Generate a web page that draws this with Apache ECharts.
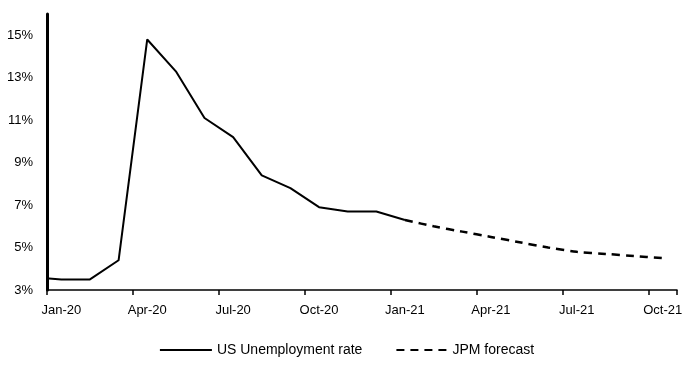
<!DOCTYPE html>
<html>
<head>
<meta charset="utf-8">
<script src="https://cdn.jsdelivr.net/npm/echarts@6/dist/echarts.min.js"></script>
<style>
  html, body { margin: 0; padding: 0; background: #fff; }
  #main { width: 694px; height: 375px; }
</style>
</head>
<body>
<div id="main"></div>
<script>
// month labels on the axis (Jan-20 .. Oct-21)
var months = ['Jan-20', 'Feb-20', 'Mar-20', 'Apr-20', 'May-20', 'Jun-20', 'Jul-20', 'Aug-20', 'Sep-20', 'Oct-20', 'Nov-20', 'Dec-20',
    'Jan-21', 'Feb-21', 'Mar-21', 'Apr-21', 'May-21', 'Jun-21', 'Jul-21', 'Aug-21', 'Sep-21', 'Oct-21'];

// actual rate, Dec-19 .. Jan-21 (Dec-19 sits just left of the axis and gets clipped)
var actualStart = -1;
var actual = [3.6, 3.5, 3.5, 4.4, 14.8, 13.3, 11.1, 10.2, 8.4, 7.8, 6.9, 6.7, 6.7, 6.3];

// forecast, Jan-21 .. Oct-21
var forecastStart = 12;
var forecast = [6.3, 6.0, 5.75, 5.5, 5.25, 5.0, 4.8, 4.7, 4.6, 4.5];

var yTicks = [3, 5, 7, 9, 11, 13, 15];

function toPairs(start, vals) {
    return vals.map(function (v, i) { return [start + i, v]; });
}

~function () {
    var myChart = echarts.init(document.getElementById('main'));
    var font = "'Liberation Sans', Arial, sans-serif";
    var option = {
        animation: false,
        textStyle: {fontFamily: font},
        grid: {left: 47, right: 17, top: 14, bottom: 85},
        legend: {
            bottom: 13,
            left: 'center',
            itemWidth: 52,
            itemHeight: 2,
            itemGap: 34,
            textStyle: {fontFamily: font, fontSize: 14, color: '#000'},
            data: [
                {name: 'US Unemployment rate', icon: 'rect', itemStyle: {color: '#000'}},
                {name: 'JPM forecast', icon: 'path://M0,0h8v2h-8z M14,0h8v2h-8z M28,0h8v2h-8z M42,0h8v2h-8z', itemStyle: {color: '#000'}}
            ]
        },
        xAxis: [
            {
                type: 'category',
                data: months,
                boundaryGap: true,
                axisLine: {onZero: false, lineStyle: {color: '#000', width: 1.5}},
                axisTick: {show: true, interval: 2, length: 5, lineStyle: {color: '#000', width: 1.5}},
                axisLabel: {interval: 2, color: '#000', fontSize: 13, margin: 14, fontFamily: font},
                splitLine: {show: false}
            },
            {
                type: 'value',
                min: -0.5,
                max: 21.5,
                show: false,
                splitLine: {show: false}
            }
        ],
        yAxis: [
            {
                type: 'value',
                min: 3,
                max: 16,
                interval: 2,
                axisLine: {show: true, onZero: false, lineStyle: {color: '#000', width: 3}},
                axisTick: {show: false},
                splitLine: {show: false},
                axisLabel: {
                    color: '#000', fontSize: 13, margin: 14, fontFamily: font,
                    showMaxLabel: false,
                    formatter: function (v) { return yTicks.indexOf(v) >= 0 ? v + '%' : ''; }
                }
            }
        ],
        series: [
            {
                name: 'US Unemployment rate',
                type: 'line',
                xAxisIndex: 1,
                symbol: 'none',
                clip: true,
                lineStyle: {color: '#000', width: 2},
                itemStyle: {color: '#000'},
                data: toPairs(actualStart, actual)
            },
            {
                name: 'JPM forecast',
                type: 'line',
                xAxisIndex: 1,
                symbol: 'none',
                smooth: 0.3,
                lineStyle: {color: '#000', width: 2.5, type: [8, 6]},
                itemStyle: {color: '#000'},
                data: toPairs(forecastStart, forecast)
            }
        ]
    };
    myChart.setOption(option);
}();
</script>
</body>
</html>
